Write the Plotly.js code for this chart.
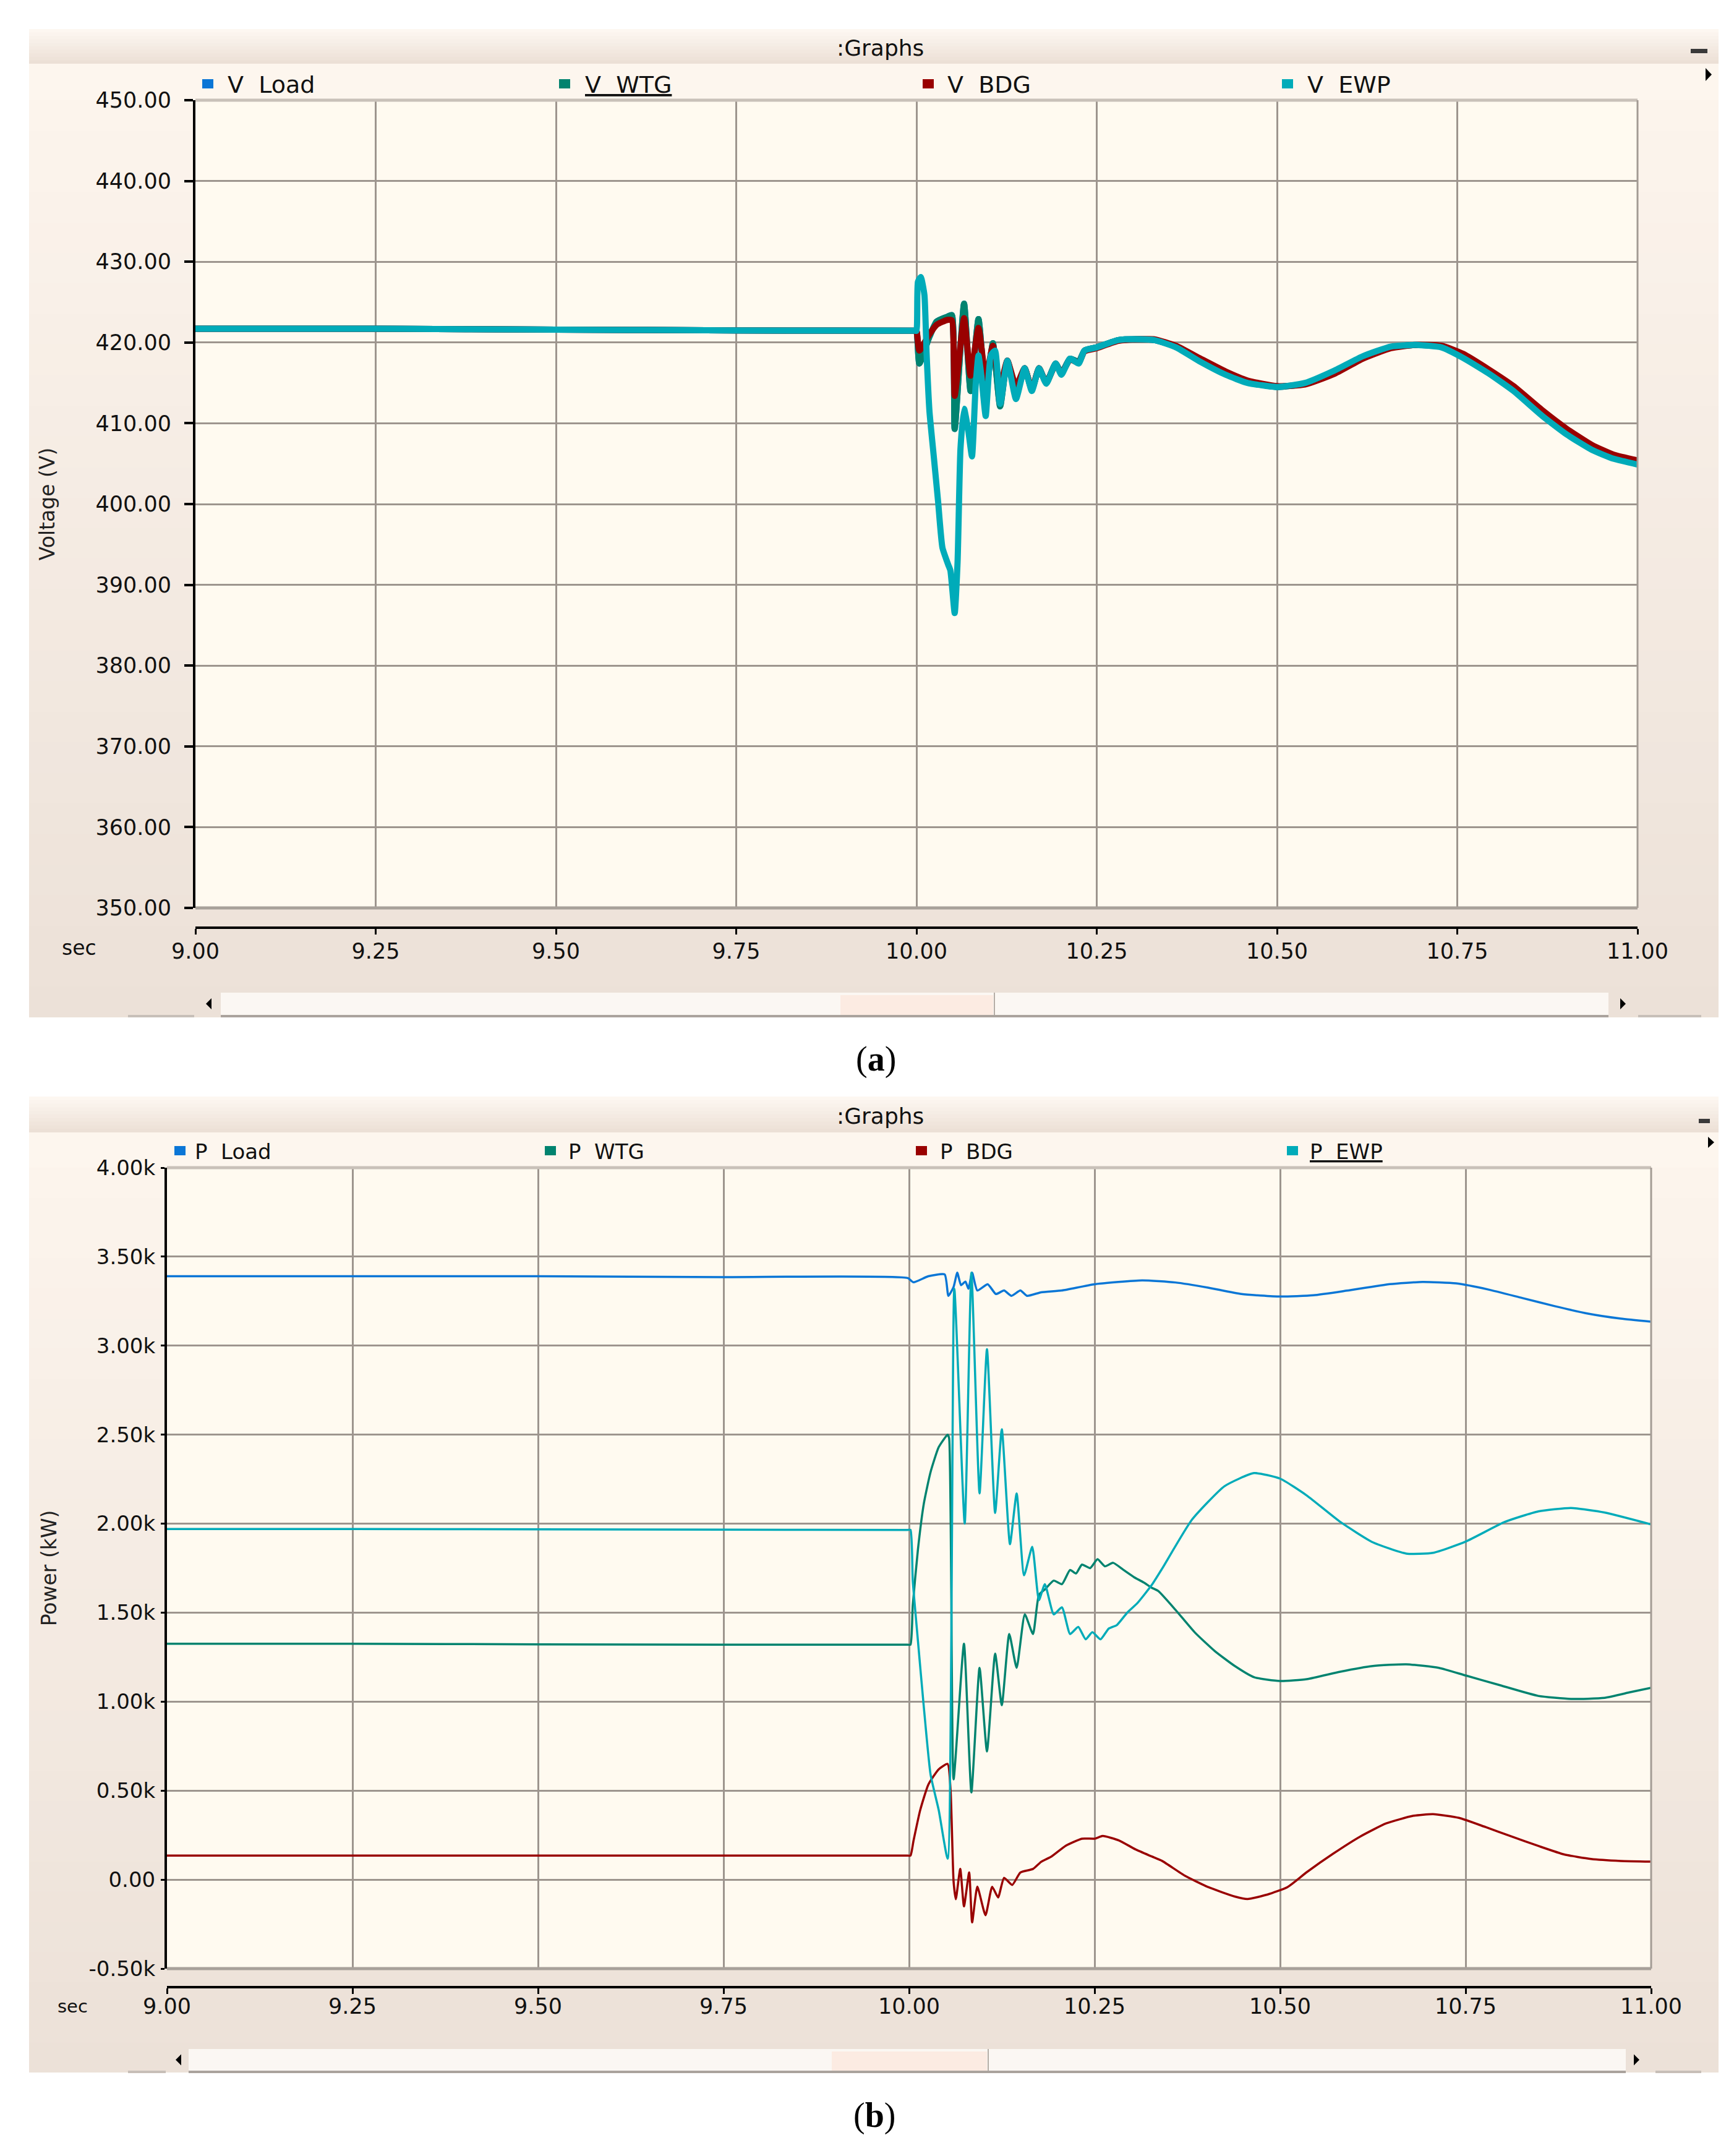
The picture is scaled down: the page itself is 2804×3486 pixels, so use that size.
<!DOCTYPE html>
<html><head><meta charset="utf-8">
<script src="https://cdn.plot.ly/plotly-3.0.1.min.js"></script>
<style>html,body{margin:0;padding:0;background:#fff;}#chart{width:2804px;height:3486px;}</style>
</head><body><div id="chart"></div>
<script>
// ---------------- DATA ----------------
// Panel (a): voltages (V) vs time (s)
const timeA = [9.00, 9.25, 9.50, 9.75, 9.998, 10.000, 10.004, 10.017, 10.028, 10.043, 10.049, 10.053, 10.066, 10.075, 10.086, 10.096, 10.106, 10.116, 10.126, 10.138, 10.150, 10.160, 10.170, 10.180, 10.193, 10.201, 10.213, 10.225, 10.233, 10.25, 10.28, 10.31, 10.33, 10.36, 10.394, 10.429, 10.459, 10.50, 10.539, 10.579, 10.619, 10.658, 10.693, 10.728, 10.758, 10.793, 10.828, 10.868, 10.902, 10.937, 10.967, 11.0];
const vLoad = [421.7, 421.7, 421.6, 421.5, 421.45, 421.45, 417.4, 420.5, 422.6, 423.2, 423.4, 409.3, 424.8, 414.0, 422.9, 414.0, 419.9, 412.1, 417.75, 414.0, 416.8, 414.2, 416.8, 415.0, 417.4, 416.2, 418.0, 417.6, 419.0, 419.4, 420.3, 420.4, 420.3, 419.5, 417.8, 416.2, 415.1, 414.5, 414.9, 416.3, 418.1, 419.4, 419.7, 419.5, 418.3, 416.4, 414.3, 411.2, 408.9, 407.0, 405.8, 405.1];
const vWtg = [421.7, 421.7, 421.6, 421.5, 421.45, 421.45, 417.4, 420.5, 422.6, 423.2, 423.4, 409.3, 424.8, 414.0, 422.9, 414.0, 419.9, 412.1, 417.75, 414.0, 416.8, 414.2, 416.8, 415.0, 417.4, 416.2, 418.0, 417.6, 419.0, 419.4, 420.3, 420.4, 420.3, 419.5, 417.8, 416.2, 415.1, 414.5, 414.9, 416.3, 418.1, 419.4, 419.7, 419.5, 418.3, 416.4, 414.3, 411.2, 408.9, 407.0, 405.8, 405.1];
const vBdg = [421.7, 421.7, 421.6, 421.5, 421.45, 421.45, 419.0, 420.9, 422.2, 422.8, 422.75, 413.4, 423.0, 415.9, 421.8, 415.6, 419.6, 414.6, 417.75, 414.6, 416.8, 414.2, 416.8, 415.0, 417.3, 416.2, 417.9, 417.5, 418.9, 419.3, 420.2, 420.4, 420.4, 419.6, 418.0, 416.4, 415.3, 414.6, 414.8, 416.1, 418.0, 419.3, 419.7, 419.6, 418.6, 416.7, 414.6, 411.6, 409.3, 407.3, 406.1, 405.4];
const timeEwpA = [9.00, 9.25, 9.50, 9.75, 9.998, 10.000, 10.002, 10.006, 10.011, 10.014, 10.018, 10.024, 10.030, 10.036, 10.044, 10.047, 10.053, 10.057, 10.061, 10.066, 10.072, 10.077, 10.082, 10.086, 10.090, 10.096, 10.103, 10.109, 10.116, 10.126, 10.138, 10.150, 10.160, 10.170, 10.180, 10.193, 10.201, 10.213, 10.225, 10.233, 10.25, 10.28, 10.31, 10.33, 10.36, 10.394, 10.429, 10.459, 10.50, 10.539, 10.579, 10.619, 10.658, 10.693, 10.728, 10.758, 10.793, 10.828, 10.868, 10.902, 10.937, 10.967, 11.0];
const vEwp = [421.7, 421.7, 421.6, 421.5, 421.45, 421.45, 427.5, 428.1, 425.9, 418.7, 411.5, 405.9, 400.3, 394.6, 392.5, 391.8, 386.5, 392.8, 406.8, 411.8, 409.0, 405.9, 414.6, 418.4, 415.9, 410.9, 418.4, 419.0, 412.4, 417.75, 413.0, 416.8, 414.0, 416.8, 414.9, 417.4, 416.0, 418.0, 417.4, 419.0, 419.4, 420.3, 420.4, 420.3, 419.4, 417.6, 416.0, 415.0, 414.5, 415.0, 416.5, 418.3, 419.5, 419.7, 419.4, 418.1, 416.2, 414.0, 410.9, 408.6, 406.7, 405.6, 404.9];

// Panel (b): active power (kW) vs time (s)
const timeLoadB = [9.00, 9.25, 9.50, 9.75, 9.998, 10.006, 10.026, 10.048, 10.053, 10.060, 10.065, 10.070, 10.076, 10.080, 10.085, 10.092, 10.106, 10.117, 10.128, 10.138, 10.150, 10.159, 10.178, 10.206, 10.25, 10.314, 10.359, 10.403, 10.448, 10.50, 10.545, 10.590, 10.648, 10.692, 10.737, 10.781, 10.826, 10.870, 10.915, 10.959, 11.0];
const pLoad = [3390, 3390, 3390, 3385, 3380, 3356, 3390, 3400, 3280, 3330, 3410, 3340, 3360, 3320, 3410, 3310, 3345, 3290, 3310, 3280, 3310, 3280, 3300, 3310, 3345, 3367, 3355, 3326, 3290, 3276, 3283, 3309, 3346, 3358, 3350, 3315, 3268, 3222, 3180, 3152, 3135];
const timeWtgB = [9.00, 9.25, 9.50, 9.75, 9.998, 10.002, 10.005, 10.012, 10.020, 10.029, 10.040, 10.052, 10.054, 10.060, 10.074, 10.084, 10.095, 10.105, 10.116, 10.125, 10.135, 10.145, 10.156, 10.167, 10.175, 10.183, 10.195, 10.206, 10.217, 10.225, 10.233, 10.244, 10.254, 10.264, 10.275, 10.289, 10.303, 10.316, 10.327, 10.336, 10.359, 10.385, 10.412, 10.439, 10.465, 10.50, 10.536, 10.581, 10.625, 10.670, 10.714, 10.75, 10.794, 10.848, 10.892, 10.937, 10.972, 11.0];
const pWtg = [1325, 1325, 1322, 1320, 1320, 1320, 1540, 1856, 2115, 2290, 2430, 2500, 2480, 563, 1325, 490, 1190, 720, 1270, 980, 1380, 1190, 1490, 1380, 1600, 1630, 1680, 1660, 1740, 1720, 1770, 1750, 1800, 1760, 1780, 1740, 1700, 1670, 1640, 1621, 1516, 1389, 1284, 1200, 1137, 1116, 1126, 1168, 1200, 1210, 1190, 1147, 1095, 1032, 1015, 1021, 1053, 1078];
const timeBdgB = [9.00, 9.25, 9.50, 9.75, 9.998, 10.002, 10.006, 10.015, 10.026, 10.040, 10.052, 10.056, 10.060, 10.063, 10.069, 10.074, 10.081, 10.085, 10.092, 10.103, 10.112, 10.120, 10.128, 10.139, 10.150, 10.167, 10.178, 10.192, 10.211, 10.233, 10.250, 10.261, 10.283, 10.305, 10.327, 10.341, 10.372, 10.403, 10.439, 10.456, 10.483, 10.510, 10.536, 10.572, 10.608, 10.643, 10.679, 10.706, 10.741, 10.777, 10.812, 10.848, 10.883, 10.919, 10.959, 11.0];
const pBdg = [135, 135, 135, 135, 135, 135, 218, 390, 534, 620, 650, 500, -10, -110, 60, -150, 40, -240, -40, -200, -40, -100, 10, -30, 40, 60, 100, 130, 190, 230, 230, 245, 220, 170, 130, 105, 21, -42, -95, -109, -84, -42, 42, 147, 242, 316, 358, 368, 347, 295, 242, 189, 141, 116, 105, 101];
const timeEwpB = [9.00, 9.25, 9.50, 9.75, 9.998, 10.002, 10.005, 10.012, 10.020, 10.029, 10.040, 10.052, 10.061, 10.075, 10.084, 10.095, 10.105, 10.116, 10.125, 10.136, 10.145, 10.155, 10.166, 10.175, 10.183, 10.195, 10.206, 10.217, 10.228, 10.238, 10.247, 10.258, 10.269, 10.280, 10.294, 10.308, 10.327, 10.341, 10.381, 10.425, 10.465, 10.50, 10.536, 10.581, 10.625, 10.670, 10.706, 10.75, 10.803, 10.848, 10.892, 10.937, 11.0];
const pEwp = [1970, 1970, 1968, 1966, 1965, 1965, 1680, 1340, 965, 590, 390, 118, 3320, 2000, 3410, 2170, 2980, 2060, 2530, 1885, 2170, 1710, 1870, 1570, 1660, 1490, 1530, 1380, 1420, 1350, 1390, 1350, 1410, 1430, 1500, 1555, 1655, 1747, 2021, 2210, 2284, 2253, 2158, 2010, 1895, 1832, 1836, 1899, 2010, 2069, 2088, 2063, 1996];

// Axis ticks and labels
const timeTicks = [9.00, 9.25, 9.50, 9.75, 10.00, 10.25, 10.50, 10.75, 11.00];
const timeTickText = ['9.00', '9.25', '9.50', '9.75', '10.00', '10.25', '10.50', '10.75', '11.00'];
const voltTicks = [350, 360, 370, 380, 390, 400, 410, 420, 430, 440, 450];
const voltTickText = ['350.00', '360.00', '370.00', '380.00', '390.00', '400.00', '410.00', '420.00', '430.00', '440.00', '450.00'];
const powerTicks = [-500, 0, 500, 1000, 1500, 2000, 2500, 3000, 3500, 4000];
const powerTickText = ['-0.50k', '0.00', '0.50k', '1.00k', '1.50k', '2.00k', '2.50k', '3.00k', '3.50k', '4.00k'];
const seriesA = ['V\u00a0\u00a0Load', '<u>V\u00a0\u00a0WTG</u>', 'V\u00a0\u00a0BDG', 'V\u00a0\u00a0EWP'];
const seriesB = ['P\u00a0\u00a0Load', 'P\u00a0\u00a0WTG', 'P\u00a0\u00a0BDG', '<u>P\u00a0\u00a0EWP</u>'];

// ---------------- STYLE ----------------
const W = 2804, H = 3486;
const X = p => p / W, Y = p => 1 - p / H;
const C_LOAD = '#0a76d6', C_WTG = '#00836f', C_BDG = '#990000', C_EWP = '#00abb9';
const COLORS = [C_LOAD, C_WTG, C_BDG, C_EWP];
const GRID = '#9d958e';
const FONT = 'DejaVu Sans';

const shapes = [], annotations = [];
function hex(c){return [parseInt(c.slice(1,3),16),parseInt(c.slice(3,5),16),parseInt(c.slice(5,7),16)];}
function mix(a,b,t){const A=hex(a),B=hex(b);return 'rgb('+A.map((v,i)=>Math.round(v+(B[i]-v)*t)).join(',')+')';}
function rect(x0,y0,x1,y1,fill,layer){shapes.push({type:'rect',xref:'paper',yref:'paper',x0:X(x0),x1:X(x1),y0:Y(y1),y1:Y(y0),fillcolor:fill,line:{width:0},layer:layer||'below'});}
function seg(x0,y0,x1,y1,color,w,layer){shapes.push({type:'line',xref:'paper',yref:'paper',x0:X(x0),x1:X(x1),y0:Y(y0),y1:Y(y1),line:{color:color,width:w},layer:layer||'below'});}
function poly(pts,fill){const d='M'+pts.map(p=>X(p[0]).toFixed(6)+','+Y(p[1]).toFixed(6)).join(' L')+' Z';shapes.push({type:'path',xref:'paper',yref:'paper',path:d,fillcolor:fill,line:{width:0},layer:'above'});}
function gradient(x0,y0,x1,y1,c1,c2,n){for(let i=0;i<n;i++){rect(x0,y0+(y1-y0)*i/n,x1,Math.min(y1,y0+(y1-y0)*(i+1)/n+1),mix(c1,c2,i/(n-1)));}}
function text(x,y,t,size,opts){annotations.push(Object.assign({xref:'paper',yref:'paper',x:X(x),y:Y(y),text:t,showarrow:false,xanchor:'center',yanchor:'middle',font:{family:FONT,size:size,color:'#111'}},opts||{}));}

function panel(P){
  gradient(P.left,P.top,P.right,P.hdrBot,'#fdf7f1','#ece0d6',10);
  rect(P.left,P.hdrBot,P.right,P.plotT,'#fdf6ee');
  gradient(P.left,P.plotT,P.right,P.bottom,'#fcf4ec','#ece1d8',30);
  rect(P.plotL,P.plotT,P.plotR,P.plotB,'#fffaf0');
  seg(P.plotL,P.plotT,P.plotR,P.plotT,'#c9c1b9',5,'above');
  seg(P.plotR,P.plotT,P.plotR,P.plotB,'#a39b94',3,'above');
  seg(P.plotL,P.plotB,P.plotR,P.plotB,'#a8a19a',5,'above');
  // scrollbar
  rect(P.trackL,P.sbT,P.trackR,P.sbB,'#fbf7f3');
  rect(P.thumbL,P.sbT+4,P.thumbR,P.sbB,'#fcebe2');
  seg(P.thumbR+2,P.sbT,P.thumbR+2,P.sbB,'#b5ada6',2);
  rect(P.trackL,P.sbB,P.trackR,P.sbB+4,'#aaa39d');
  rect(P.left+160,P.sbB,P.plotL-2,P.sbB+4,'#c7bfb8');
  rect(P.trackR+48,P.sbB,P.right-28,P.sbB+4,'#c7bfb8');
  const mid=(P.sbT+P.sbB)/2;
  poly([[P.arrowL+9,mid-9],[P.arrowL,mid],[P.arrowL+9,mid+9]],'#000');
  poly([[P.arrowR,mid-9],[P.arrowR+9,mid],[P.arrowR,mid+9]],'#000');
  // header controls
  rect(P.dashX0,P.dashY0,P.dashX1,P.dashY1,'#3a3a3a','above');
  poly([[P.triX,P.triY0],[P.triX+10,(P.triY0+P.triY1)/2],[P.triX,P.triY1]],'#000');
  text(1423,(P.top+P.hdrBot)/2+2,':Graphs',36);
  // legend keys
  P.keys.forEach((k,i)=>{
    rect(k[0],P.keyY-8,k[0]+18,P.keyY+7,COLORS[i],'above');
    text(k[1],P.keyY+1,P.labels[i],P.legSize,{xanchor:'left'});
  });
  text(P.secX,P.secY,'sec',P.secSize);
}

const PA = {top:47,bottom:1645,left:47,right:2779,hdrBot:103,plotL:316,plotR:2648,plotT:162,plotB:1468,
  sbT:1605,sbB:1641,trackL:357,trackR:2601,thumbL:1359,thumbR:1606,arrowL:333,arrowR:2620,
  dashX0:2734,dashX1:2761,dashY0:79,dashY1:86,triX:2758,triY0:110,triY1:131,
  keyY:136,keys:[[327,366],[904,944],[1492,1530],[2073,2112]],labels:seriesA,legSize:38,
  secX:128,secY:1532,secSize:33};
const PB = {top:1773,bottom:3351,left:47,right:2779,hdrBot:1831,plotL:270,plotR:2670,plotT:1888,plotB:3183,
  sbT:3313,sbB:3348,trackL:305,trackR:2629,thumbL:1345,thumbR:1596,arrowL:284,arrowR:2642,
  dashX0:2747,dashX1:2765,dashY0:1809,dashY1:1816,triX:2762,triY0:1838,triY1:1856,
  keyY:1861,keys:[[282,313],[881,917],[1481,1518],[2081,2116]],labels:seriesB,legSize:34,
  secX:117,secY:3244,secSize:29};
panel(PA); panel(PB);
text(1416,1712,'(<b>a</b>)',56,{font:{family:'Liberation Serif',size:56,color:'#000'}});
text(1414,3420,'(<b>b</b>)',56,{font:{family:'Liberation Serif',size:56,color:'#000'}});

// ---------------- TRACES ----------------
function tr(x,y,xa,ya,color,w,name){return {type:'scatter',mode:'lines',x:x,y:y,xaxis:xa,yaxis:ya,name:name,
  line:{color:color,width:w,simplify:false,shape:'spline',smoothing:0.5},hoverinfo:'skip',showlegend:false};}
const WA = 10, WB = 3.5;
const data = [
  tr(timeA,vLoad,'x','y',C_LOAD,WA,'V Load'),
  tr(timeA,vWtg,'x','y',C_WTG,WA,'V WTG'),
  tr(timeA,vBdg,'x','y',C_BDG,WA,'V BDG'),
  tr(timeEwpA,vEwp,'x','y',C_EWP,WA,'V EWP'),
  tr(timeLoadB,pLoad,'x2','y2',C_LOAD,WB,'P Load'),
  tr(timeWtgB,pWtg,'x2','y2',C_WTG,WB,'P WTG'),
  tr(timeBdgB,pBdg,'x2','y2',C_BDG,WB,'P BDG'),
  tr(timeEwpB,pEwp,'x2','y2',C_EWP,WB,'P EWP')
];

function xAxis(P,axisY,standoff){return {domain:[X(P.plotL),X(P.plotR)],range:[9,11],anchor:'free',position:Y(axisY),
  tickmode:'array',tickvals:timeTicks,ticktext:timeTickText,showgrid:true,gridcolor:GRID,gridwidth:3,
  showline:true,linecolor:'#000',linewidth:4,ticks:'outside',ticklen:9,tickwidth:3,tickcolor:'#000',
  ticklabelstandoff:standoff,tickfont:{family:FONT,size:35,color:'#111'},zeroline:false,fixedrange:true,automargin:false};}

const layout = {
  width:W,height:H,margin:{l:0,r:0,t:0,b:0,pad:0},paper_bgcolor:'#ffffff',plot_bgcolor:'rgba(0,0,0,0)',
  showlegend:false,font:{family:FONT,color:'#111'},
  xaxis:xAxis(PA,1500,-3),
  yaxis:{domain:[Y(PA.plotB),Y(PA.plotT)],range:[350,450],anchor:'x',tickmode:'array',tickvals:voltTicks,ticktext:voltTickText,
    showgrid:true,gridcolor:GRID,gridwidth:3,showline:true,linecolor:'#000',linewidth:4,ticks:'outside',ticklen:14,tickwidth:4,
    tickcolor:'#000',ticklabelstandoff:14,tickfont:{family:FONT,size:35,color:'#111'},zeroline:false,fixedrange:true,automargin:false,
    title:{text:'Voltage (V)',font:{family:FONT,size:33,color:'#222'},standoff:57}},
  xaxis2:xAxis(PB,3213,-10),
  yaxis2:{domain:[Y(PB.plotB),Y(PB.plotT)],range:[-500,4000],anchor:'x2',tickmode:'array',tickvals:powerTicks,ticktext:powerTickText,
    showgrid:true,gridcolor:GRID,gridwidth:3,showline:true,linecolor:'#000',linewidth:4,ticks:'outside',ticklen:6,tickwidth:3,
    tickcolor:'#000',ticklabelstandoff:2,tickfont:{family:FONT,size:34,color:'#111'},zeroline:false,fixedrange:true,automargin:false,
    title:{text:'Power (kW)',font:{family:FONT,size:33,color:'#222'},standoff:43}},
  shapes:shapes,annotations:annotations
};
Plotly.newPlot('chart',data,layout,{staticPlot:true,displayModeBar:false});
</script></body></html>
